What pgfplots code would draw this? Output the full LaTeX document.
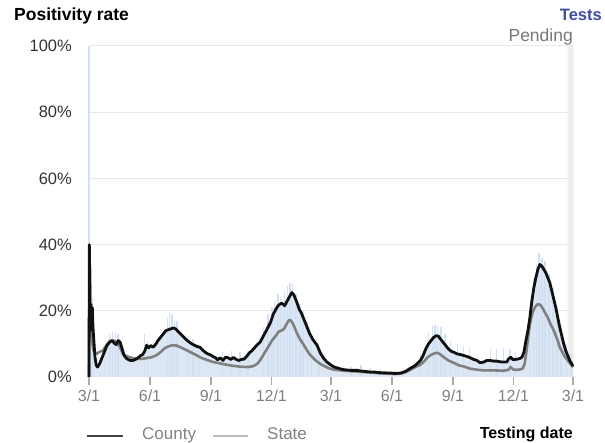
\documentclass[border=0pt]{standalone}
\usepackage{pgfplots}
\pgfplotsset{compat=1.18}
\usepackage{pgfplotstable}
\usepackage{fontspec}
\setmainfont{Liberation Sans}
\definecolor{areablue}{RGB}{221,231,244}
\definecolor{spikeblue}{RGB}{209,224,242}
\definecolor{countyc}{RGB}{17,17,17}
\definecolor{statec}{RGB}{128,128,128}
\definecolor{gridc}{RGB}{232,232,232}
\definecolor{testsblue}{RGB}{61,79,159}
\definecolor{ylab}{RGB}{51,51,51}
\definecolor{xlab}{RGB}{128,128,128}
\definecolor{legtext}{RGB}{130,130,130}
\definecolor{pendc}{RGB}{120,120,120}
\definecolor{legcounty}{RGB}{68,68,68}
\definecolor{legstate}{RGB}{187,187,187}
\definecolor{tickc}{RGB}{170,170,170}
\definecolor{bandc}{RGB}{238,238,238}
\pgfplotstableread{
day val
0 0
0.5 40
1.5 25
2 14
3 22
4 15
5 21
6 15
7 12
9 6
11 3.5
13 3
16 4
19 5.5
23 7.5
27 9.5
31 10.5
35 11
38 10.2
41 9.8
44 11
47 10.5
50 8.5
53 6.5
57 5.5
62 5
66 5
70 5.3
74 5.8
78 6.5
81 6.8
84 7.8
87 9.6
90 8.8
93 9.5
97 9
101 10
104 11
108 12
112 13
116 14
120 14.3
124 14.6
128 14.8
131 14.5
135 13.6
139 12.8
143 12
147 11.2
151 10.6
155 10
159 9.6
163 9.2
167 9
171 8.2
175 7.5
179 7
183 6.7
187 6.2
191 5.8
194 5.2
198 5.8
202 5
206 6
210 5.8
214 5.3
218 5.9
222 5.3
226 5
230 5.3
234 5.4
238 6.3
242 7.3
246 8
250 8.9
254 9.8
258 10.5
262 12
266 13.5
270 15
274 16.6
278 19
282 20.5
285 21.5
288 22
291 22.3
295 21.5
299 23
303 24.5
306 25.5
309 24.8
313 22.8
317 20.5
321 19
325 17
329 15
333 13
338 11.2
344 9.6
349 7.2
354 5.6
359 4.5
365 3.6
370 3
375 2.7
380 2.4
385 2.2
390 2.1
395 2
400 2
405 2
410 1.8
415 1.7
420 1.6
425 1.5
430 1.5
435 1.4
440 1.3
445 1.3
450 1.2
455 1.2
460 1.1
465 1.1
470 1.2
475 1.5
480 2
485 2.7
490 3.2
495 4
500 5
504 6.5
508 8.5
512 10
516 11
520 12
524 12.5
527 12.3
530 11.5
534 10.5
538 9.5
542 8.5
546 7.8
550 7.5
555 7
560 6.8
565 6.5
570 6.2
575 5.8
580 5.3
585 5
590 4.3
595 4.5
600 5
605 5
610 4.8
615 4.8
620 4.6
625 4.5
630 4.5
633 5.5
636 6
639 5.3
642 5.3
646 5.4
650 5.6
653 6
656 7.5
659 11
662 14
665 18
668 23
671 27
674 30
677 32.5
680 34
683 33.5
686 32.5
689 31.5
692 30
695 28.5
698 26
701 23.5
704 21
707 18
710 15
713 12.5
716 10
719 8
722 6.5
725 5
728 4
730 3.3
}\county
\pgfplotstableread{
day val
0 0
0.5 23
1.5 16
3 14
5 10
7 8
9 7.5
12 7
15 7.5
21 8
26 9.5
32 11
37 11
42 10.5
47 9
51 7
56 6.3
61 6
66 5.7
72 5.5
80 5.5
87 5.7
95 6
102 6.6
108 7.5
113 8.5
117 9
122 9.4
127 9.6
132 9.5
138 9
143 8.5
148 8
155 7.3
162 6.6
167 6
173 5.5
180 5
186 4.6
193 4.3
200 4
210 3.6
220 3.3
230 3.1
240 3
248 3.3
254 4
258 5
264 7
270 9
276 11
282 12.5
286 13.7
290 14
294 14.5
298 16
302 17.3
305 17
309 15.5
313 13.5
318 11.5
323 10
328 8.3
333 6.8
338 5.8
343 4.8
350 3.8
356 3.2
362 2.6
370 2.2
380 2
390 1.8
400 1.7
420 1.4
440 1.1
460 0.9
470 1
478 1.5
485 2.2
492 3
499 3.6
505 4.6
511 6
517 6.8
522 7.2
526 7.3
530 6.8
535 6
542 5
550 4.3
558 3.5
565 3.2
575 2.5
585 2.2
595 2
610 2
625 1.9
632 2.1
636 3
640 2.2
648 2.2
654 2.5
657 4
660 8
663 13
666 17
669 19.5
673 21.2
677 22
681 21.8
685 20.5
689 19
692 18
696 16
700 14.5
703 13
707 11
710 9
714 7.5
718 6
722 5
726 4
730 3
}\state
\pgfplotstableread{
day val
0 100
3 33
5 24
31 13
35 14
40 13.5
44 13
84 13
88 11
118 18
121 19.5
125 19
129 17
133 17
150 12.5
157 11.5
165 10
201 7.5
215 8
228 7.5
240 8
263 15
270 19
276 21
280 23
285 25
289 24
295 26
299 27.5
303 28.5
307 28
312 25
318 22
323 20
330 17
336 13
347 7
395 3
410 3.5
425 3
440 2.5
500 7
512 13.5
518 15.5
522 15.8
526 15.5
531 15
537 13
545 11
556 10
565 9.5
574 9
606 8.5
615 8.5
625 8.8
635 8.5
643 7.5
664 21
670 30
675 34
679 37.4
683 36
688 35
694 31
700 27
706 21
712 15
720 10
727 7
}\spikes
\begin{document}
\begin{tikzpicture}
\useasboundingbox (0,0) rectangle (605pt,443pt);
\begin{axis}[
  at={(89pt,66pt)}, anchor=south west,
  scale only axis, width=484pt, height=331pt,
  xmin=0, xmax=730, ymin=0, ymax=100,
  clip=false,
  axis line style={draw=none},
  xtick pos=bottom, ytick pos=left,
  ytick={0,20,40,60,80,100},
  yticklabel={\pgfmathprintnumber{\tick}\%},
  ymajorgrids, grid style={gridc, line width=1pt},
  ytick style={draw=none},
  yticklabel style={font=\fontsize{16.5}{18}\selectfont, text=ylab, anchor=east, inner sep=0pt, xshift=-17pt},
  xtick={0,92,184,275,365,457,549,640,730},
  xticklabels={3/1,6/1,9/1,12/1,3/1,6/1,9/1,12/1,3/1},
  xtick align=outside,
  xtick style={draw=tickc, line width=1.2pt},
  major tick length=8pt,
  xticklabel style={font=\fontsize{16}{18}\selectfont, text=xlab, anchor=north, inner sep=0pt, yshift=-5pt},
  /pgf/number format/assume math mode=true,
]
\addplot[fill=bandc, draw=none] coordinates {(722,0) (722,100) (731,100) (731,0)} \closedcycle;
\addplot[fill=areablue, draw=none] table[x=day,y=val] {\county} \closedcycle;
\addplot[ycomb, draw=spikeblue, line width=1.4pt, mark=none] table[x=day,y=val] {\spikes};
\addplot[statec, line width=2.6pt, line join=round, mark=none] table[x=day,y=val] {\state};
\addplot[countyc, line width=2.8pt, line join=round, mark=none] table[x=day,y=val] {\county};
\end{axis}
\node[anchor=base west, inner sep=0pt, font=\bfseries\fontsize{17.5}{20}\selectfont] at (14pt,422pt) {Positivity rate};
\node[anchor=base east, inner sep=0pt, text=testsblue, font=\bfseries\fontsize{16.5}{20}\selectfont] at (602pt,422pt) {Tests};
\node[anchor=base east, inner sep=0pt, text=pendc, font=\fontsize{17.5}{20}\selectfont] at (573pt,401pt) {Pending};
\draw[legcounty, line width=2.5pt] (87pt,7pt) -- (123pt,7pt);
\node[anchor=base west, inner sep=0pt, text=legtext, font=\fontsize{17}{20}\selectfont] at (142pt,3pt) {County};
\draw[legstate, line width=2.5pt] (213pt,7pt) -- (248pt,7pt);
\node[anchor=base west, inner sep=0pt, text=legtext, font=\fontsize{17}{20}\selectfont] at (267pt,3pt) {State};
\node[anchor=base east, inner sep=0pt, font=\bfseries\fontsize{16}{20}\selectfont] at (573pt,4pt) {Testing date};
\end{tikzpicture}
\end{document}
